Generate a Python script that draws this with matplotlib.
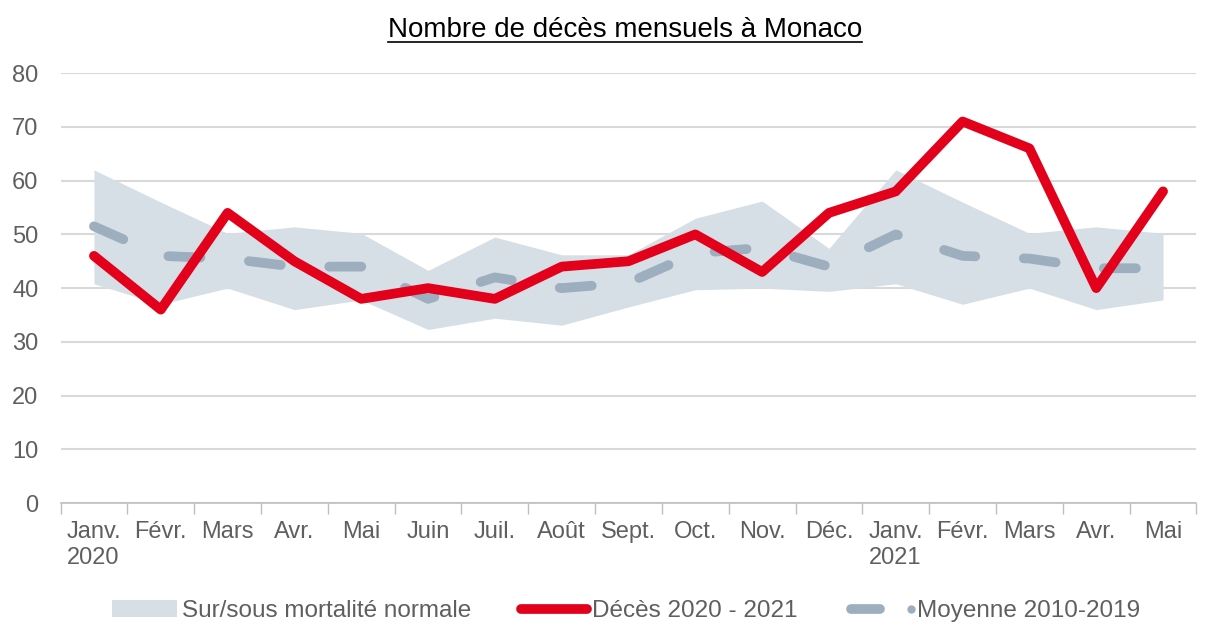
import matplotlib
matplotlib.use("Agg")
import matplotlib.pyplot as plt
from matplotlib.lines import Line2D
from matplotlib.patches import Patch
from matplotlib.legend_handler import HandlerBase

plt.rcParams['font.family'] = ['Liberation Sans', 'DejaVu Sans']

# data
mois = ["Janv.\n2020", "Févr.", "Mars", "Avr.", "Mai", "Juin", "Juil.", "Août", "Sept.",
        "Oct.", "Nov.", "Déc.", "Janv.\n2021", "Févr.", "Mars", "Avr.", "Mai"]
deces = [46, 36, 54, 45, 38, 40, 38, 44, 45, 50, 43, 54, 58, 71, 66, 40, 58]
moyenne = [51.5, 46, 45.5, 44, 44, 38, 42, 40, 41, 46.5, 47.5, 44, 50, 46, 45.5, 43.7, 43.7]
bande_haut = [62, 56, 50.2, 51.4, 50.2, 43.3, 49.5, 46.2, 46.2, 53, 56.2, 47.4, 62, 56, 50.2, 51.4, 50.2]
bande_bas = [40.8, 37, 40, 36, 37.8, 32.3, 34.4, 33.1, 36.5, 39.7, 40, 39.4, 40.8, 37, 40, 36, 37.8]

ROUGE = "#E2001A"
GRIS = "#9DAEBE"
BANDE = "#D6DFE6"
TEXTE = "#5F5F5F"


class HandlerDashDot(HandlerBase):
    # short dash followed by a small dot, like the original legend
    def create_artists(self, legend, orig_handle, xdescent, ydescent,
                       width, height, fontsize, trans):
        y = height / 2 - ydescent
        dash = Line2D([-xdescent + 0.06 * width, -xdescent + 0.5 * width], [y, y],
                      color=GRIS, lw=7, solid_capstyle="round", transform=trans)
        dot = Line2D([-xdescent + 0.97 * width], [y], color=GRIS, marker="o",
                     markersize=5, lw=0, transform=trans)
        return [dash, dot]


fig = plt.figure(figsize=(12.11, 6.25), dpi=100)
ax = fig.add_axes([0.050, 0.195, 0.938, 0.688])

x = list(range(len(mois)))
ax.fill_between(x, bande_bas, bande_haut, color=BANDE, lw=0, zorder=1)
ax.plot(x, moyenne, color=GRIS, lw=7, dashes=(3.3, 5.0), dash_capstyle="round", zorder=2)
ax.plot(x, deces, color=ROUGE, lw=7, solid_joinstyle="round", solid_capstyle="round", zorder=3)

ax.set_ylim(0, 80)
ax.set_yticks(range(0, 81, 10))
ax.set_xlim(-0.5, len(mois) - 0.5)
ax.set_xticks(x)
ax.set_xticklabels(mois, multialignment="left")
ax.set_xticks([i - 0.5 for i in range(len(mois) + 1)], minor=True)
ax.tick_params(axis="x", which="major", length=0, pad=13, labelsize=17, colors=TEXTE)
ax.tick_params(axis="x", which="minor", length=8, width=1, color="#BFBFBF")
ax.tick_params(axis="y", length=0, pad=16, labelsize=17, colors=TEXTE)

ax.grid(axis="y", color="#D9D9D9", lw=1.5, zorder=0)
ax.set_axisbelow(True)
for s in ["top", "right", "left"]:
    ax.spines[s].set_visible(False)
ax.spines["bottom"].set_color("#BFBFBF")
ax.spines["bottom"].set_linewidth(1.2)

# underlined title
titre = fig.text(0.516, 0.952, "Nombre de décès mensuels à Monaco", ha="center", va="center",
                 fontsize=20, color="black")
fig.canvas.draw()
bb = titre.get_window_extent().transformed(fig.transFigure.inverted())
fig.add_artist(Line2D([bb.x0, bb.x1], [bb.y0 + 0.002, bb.y0 + 0.002], color="black", lw=1.2,
                      transform=fig.transFigure))

h_bande = Patch(facecolor=BANDE, edgecolor="none")
h_deces = Line2D([0], [0], color=ROUGE, lw=7, solid_capstyle="round")
h_moy = object()
leg = fig.legend([h_bande, h_deces, h_moy],
                 ["Sur/sous mortalité normale", "Décès 2020 - 2021", "Moyenne 2010-2019"],
                 handler_map={h_moy: HandlerDashDot()},
                 loc="center", bbox_to_anchor=(0.517, 0.022), ncol=3, frameon=False,
                 fontsize=17.5, handlelength=2.7, handletextpad=0.2, columnspacing=2.05)
for t in leg.get_texts():
    t.set_color(TEXTE)

fig.savefig("out.png", dpi=100)
